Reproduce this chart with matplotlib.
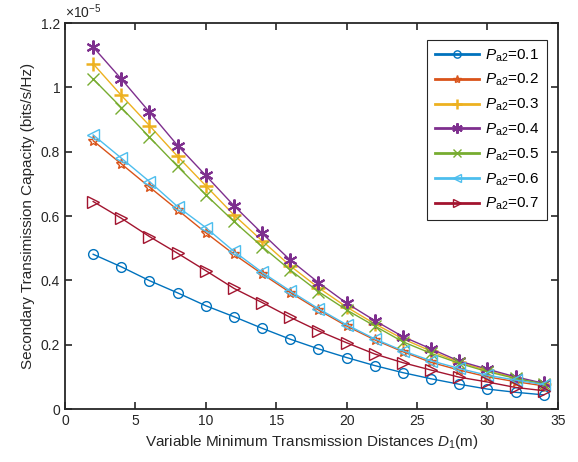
import numpy as np
import matplotlib.pyplot as plt

plt.rcParams['font.family'] = ['Liberation Sans', 'DejaVu Sans']
plt.rcParams['mathtext.fontset'] = 'custom'
plt.rcParams['mathtext.rm'] = 'Liberation Sans'
plt.rcParams['mathtext.it'] = 'Liberation Sans:italic'

distances = [2, 4, 6, 8, 10, 12, 14, 16, 18, 20, 22, 24, 26, 28, 30, 32, 34]
pa2_levels = ['0.1', '0.2', '0.3', '0.4', '0.5', '0.6', '0.7']

# capacity values, units of 1e-5 bits/s/Hz
cap_01 = [0.481, 0.442, 0.399, 0.361, 0.321, 0.287, 0.251, 0.217, 0.187, 0.160, 0.135, 0.113, 0.094, 0.077, 0.062, 0.052, 0.044]
cap_02 = [0.834, 0.762, 0.690, 0.619, 0.548, 0.481, 0.420, 0.362, 0.308, 0.258, 0.215, 0.178, 0.145, 0.121, 0.100, 0.085, 0.072]
cap_03 = [1.073, 0.975, 0.881, 0.785, 0.694, 0.603, 0.523, 0.445, 0.377, 0.317, 0.265, 0.218, 0.180, 0.145, 0.120, 0.097, 0.078]
cap_04 = [1.125, 1.026, 0.923, 0.819, 0.726, 0.632, 0.546, 0.463, 0.393, 0.329, 0.275, 0.225, 0.187, 0.149, 0.124, 0.100, 0.080]
cap_05 = [1.026, 0.937, 0.845, 0.754, 0.666, 0.583, 0.505, 0.432, 0.365, 0.308, 0.258, 0.209, 0.173, 0.142, 0.116, 0.095, 0.078]
cap_06 = [0.852, 0.780, 0.707, 0.629, 0.564, 0.490, 0.425, 0.367, 0.312, 0.262, 0.218, 0.181, 0.150, 0.126, 0.105, 0.090, 0.076]
cap_07 = [0.645, 0.593, 0.536, 0.484, 0.430, 0.375, 0.331, 0.285, 0.243, 0.206, 0.171, 0.144, 0.121, 0.099, 0.084, 0.067, 0.057]

series = [cap_01, cap_02, cap_03, cap_04, cap_05, cap_06, cap_07]
colors = ['#0072BD', '#D95319', '#EDB120', '#7E2F8E', '#77AC30', '#4DBEEE', '#A2142F']
markers = ['o', '*', '+', (6, 2, 0), 'x', '<', '>']
msizes = [7, 8, 10, 10, 8, 8, 8]
mwidths = [1.0, 1.0, 1.8, 1.5, 1.0, 1.0, 1.0]

fig = plt.figure(figsize=(5.78, 4.62), dpi=100)
ax = fig.add_axes([0.1125, 0.1147, 0.8525, 0.8355])

for vals, lev, c, m, ms, mw in zip(series, pa2_levels, colors, markers, msizes, mwidths):
    ax.plot(distances, vals, color=c, marker=m, markersize=ms, linewidth=1.0,
            markerfacecolor='none', markeredgecolor=c, markeredgewidth=mw,
            label=r'$P_{\mathrm{a2}}$=' + lev)

ax.set_xlim(0, 35)
ax.set_ylim(0, 1.2)
ax.set_xticks(np.arange(0, 36, 5))
ax.set_yticks([0, 0.2, 0.4, 0.6, 0.8, 1.0, 1.2])
ax.set_yticklabels(['0', '0.2', '0.4', '0.6', '0.8', '1', '1.2'])

for s in ax.spines.values():
    s.set_color('#262626')
    s.set_linewidth(1.3)
ax.tick_params(direction='in', top=True, right=True, length=5, width=1.2,
               labelsize=10, colors='#262626', labelcolor='#262626')

ax.text(0.0, 1.005, r'$\times10^{-5}$', transform=ax.transAxes, fontsize=10,
        ha='left', va='bottom', color='#262626')

ax.set_xlabel(r'Variable Minimum Transmission Distances $D_1$(m)', fontsize=11, color='#262626')
ax.set_ylabel('Secondary Transimission Capacity (bits/s/Hz)', fontsize=11, color='#262626')

leg = ax.legend(loc='upper right', bbox_to_anchor=(0.978, 0.957), fancybox=False,
                edgecolor='#262626', framealpha=1, fontsize=11, handlelength=2.9,
                labelspacing=0.55, borderpad=0.5, handletextpad=0.4, borderaxespad=0)
leg.get_frame().set_linewidth(0.8)
for line in leg.get_lines():
    line.set_linewidth(2.0)
    line.set_markersize(line.get_markersize() * 0.75)

fig.savefig('out.png', dpi=100)
